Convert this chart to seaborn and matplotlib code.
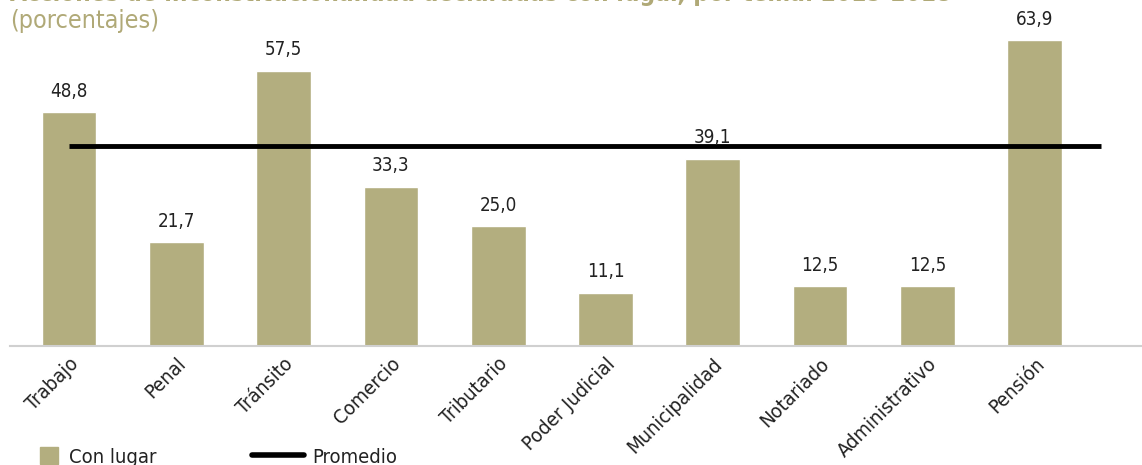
import matplotlib
matplotlib.use("Agg")
import matplotlib.pyplot as plt
import matplotlib.patches as mpatches
from matplotlib.lines import Line2D
from matplotlib.font_manager import FontProperties
import pandas as pd
import seaborn as sns

# ------------------------------------------------------------
# Acciones de inconstitucionalidad declaradas con lugar, por tema
# ------------------------------------------------------------

temas = ["Trabajo", "Penal", "Tránsito", "Comercio", "Tributario",
         "Poder Judicial", "Municipalidad", "Notariado", "Administrativo", "Pensión"]
con_lugar = [48.8, 21.7, 57.5, 33.3, 25.0, 11.1, 39.1, 12.5, 12.5, 63.9]
promedio = 41.7

titulo = "Acciones de inconstitucionalidad declaradas con lugar, por tema. 2015-2018"
subtitulo = "(porcentajes)"

BAR = "#b3ae7f"
TITLE = "#b0a977"
INK = "#222222"

sns.set_theme(style="white")
plt.rcParams["font.family"] = ["DejaVu Sans"]
plt.rcParams["font.stretch"] = "condensed"


def fp(size, weight="normal"):
    return FontProperties(family="DejaVu Sans", stretch="condensed",
                          weight=weight, size=size)


df = pd.DataFrame({"tema": temas, "valor": con_lugar})

W, H = 1142, 465
fig = plt.figure(figsize=(W / 100, H / 100), dpi=100)
ax = fig.add_axes([10 / W, (H - 346) / H, 1132 / W, 335 / H])

sns.barplot(data=df, x="tema", y="valor", color=BAR, width=0.51,
            saturation=1, ax=ax)

ax.hlines(promedio, 0, 9.62, color="black", linewidth=3.5, zorder=3)

for i, v in enumerate(con_lugar):
    ax.text(i, v + 2.4, f"{v:.1f}".replace(".", ","), ha="center", va="bottom",
            fontproperties=fp(13.5), color=INK)

ax.set_xlim(-0.55, 10.0)
ax.set_ylim(0, 70)
ax.set_xlabel("")
ax.set_ylabel("")
ax.set_yticks([])
for s in ["top", "right", "left"]:
    ax.spines[s].set_visible(False)
ax.spines["bottom"].set_color("#d0d0d0")
ax.spines["bottom"].set_linewidth(1.5)
ax.tick_params(axis="x", length=0, pad=6)
ax.set_xticks(range(len(temas)))
ax.set_xticklabels(temas, rotation=45, ha="right", rotation_mode="anchor",
                   fontproperties=fp(14.5), color=INK)

fig.text(10 / W, 1 - 1 / H, titulo, ha="left", va="baseline",
         fontproperties=fp(17.5, "bold"), color=TITLE)
fig.text(10 / W, 1 - 9 / H, subtitulo, ha="left", va="top",
         fontproperties=fp(18), color=TITLE)

leg1 = fig.legend(handles=[mpatches.Patch(color=BAR, label="Con lugar")],
                  loc="center left", bbox_to_anchor=(40 / W, 1 - 457 / H),
                  frameon=False, prop=fp(14.5), borderpad=0, borderaxespad=0,
                  handlelength=0.9, handleheight=0.9, handletextpad=0.55)
leg2 = fig.legend(handles=[Line2D([0], [0], color="black", linewidth=4,
                                  label="Promedio")],
                  loc="center left", bbox_to_anchor=(252 / W, 1 - 457 / H),
                  frameon=False, prop=fp(14.5), borderpad=0, borderaxespad=0,
                  handlelength=2.6, handletextpad=0.4)
for leg in (leg1, leg2):
    for t in leg.get_texts():
        t.set_color(INK)

fig.savefig("out.png", dpi=100)
